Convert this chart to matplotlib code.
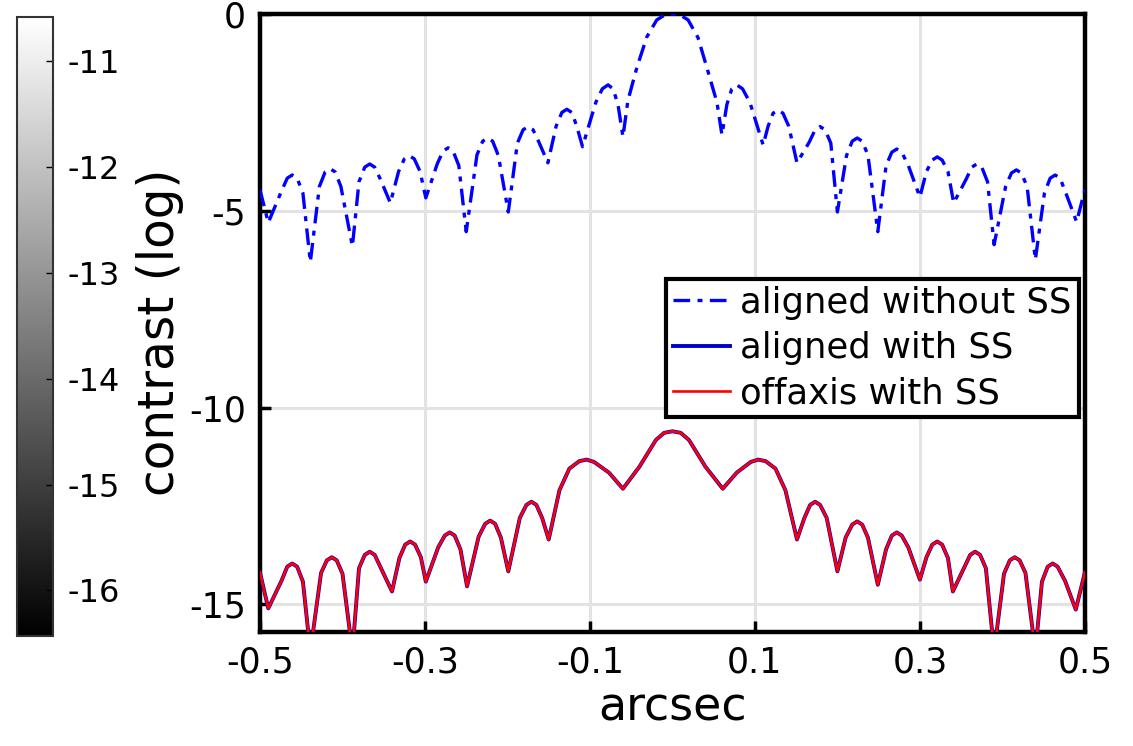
import numpy as np
import matplotlib
matplotlib.use("Agg")
import matplotlib.pyplot as plt
from matplotlib import colors, cm

# blue dash-dot curve: aligned without SS, (arcsec, log contrast)
pts_nos = [
    (-0.500, -4.47), (-0.490, -5.30), (-0.474, -4.50), (-0.467, -4.17), (-0.461, -4.09),
    (-0.455, -4.17), (-0.448, -4.55), (-0.439, -6.30), (-0.428, -4.38), (-0.421, -4.01),
    (-0.415, -3.93), (-0.409, -4.01), (-0.402, -4.38), (-0.388, -5.90), (-0.380, -4.26),
    (-0.373, -3.89), (-0.367, -3.81), (-0.361, -3.89), (-0.354, -4.20), (-0.342, -4.80),
    (-0.332, -4.00), (-0.325, -3.68), (-0.319, -3.60), (-0.313, -3.68), (-0.306, -4.00),
    (-0.299, -4.67), (-0.285, -3.80), (-0.278, -3.48), (-0.272, -3.40), (-0.266, -3.48),
    (-0.259, -3.85), (-0.250, -5.53), (-0.237, -3.58), (-0.230, -3.23), (-0.224, -3.15),
    (-0.218, -3.23), (-0.211, -3.60), (-0.199, -5.03), (-0.188, -3.28), (-0.181, -2.94),
    (-0.175, -2.86), (-0.169, -2.94), (-0.162, -3.25), (-0.151, -3.78), (-0.141, -2.85),
    (-0.134, -2.50), (-0.128, -2.42), (-0.122, -2.50), (-0.116, -2.85), (-0.109, -3.37),
    (-0.093, -2.25), (-0.085, -1.90), (-0.078, -1.80), (-0.072, -1.90), (-0.066, -2.30),
    (-0.060, -3.12), (-0.054, -2.20), (-0.043, -1.35), (-0.031, -0.58), (-0.019, -0.15),
    (-0.009, -0.02), (0.000, 0.00), (0.009, -0.02), (0.019, -0.15), (0.031, -0.60),
    (0.043, -1.45), (0.054, -2.25), (0.060, -3.07), (0.066, -2.30), (0.072, -1.90),
    (0.078, -1.80), (0.085, -1.90), (0.094, -2.25), (0.110, -3.33), (0.116, -2.85),
    (0.122, -2.52), (0.128, -2.44), (0.134, -2.52), (0.141, -2.85), (0.151, -3.78),
    (0.166, -3.25), (0.173, -2.94), (0.179, -2.86), (0.185, -2.94), (0.192, -3.28),
    (0.200, -5.03), (0.211, -3.60), (0.218, -3.23), (0.224, -3.15), (0.230, -3.23),
    (0.237, -3.58), (0.249, -5.53), (0.259, -3.85), (0.266, -3.51), (0.272, -3.43),
    (0.278, -3.51), (0.286, -3.85), (0.300, -4.65), (0.308, -4.00), (0.315, -3.71),
    (0.321, -3.63), (0.327, -3.71), (0.334, -4.00), (0.341, -4.80), (0.356, -4.20),
    (0.363, -3.89), (0.369, -3.81), (0.375, -3.89), (0.382, -4.26), (0.390, -5.86),
    (0.404, -4.38), (0.411, -4.04), (0.417, -3.96), (0.423, -4.04), (0.430, -4.38),
    (0.440, -6.24), (0.451, -4.55), (0.458, -4.17), (0.464, -4.09), (0.470, -4.17),
    (0.477, -4.55), (0.490, -5.28), (0.500, -4.47),
]

# red curve: offaxis with SS (the blue "aligned with SS" curve lies underneath it)
pts_off = [
    (-0.500, -14.19), (-0.490, -15.10), (-0.474, -14.40), (-0.467, -14.04), (-0.461, -13.96),
    (-0.455, -14.04), (-0.448, -14.42), (-0.439, -16.20), (-0.426, -14.20), (-0.419, -13.88),
    (-0.413, -13.80), (-0.407, -13.88), (-0.400, -14.22), (-0.388, -16.20), (-0.380, -14.08),
    (-0.373, -13.74), (-0.367, -13.66), (-0.361, -13.74), (-0.354, -14.05), (-0.340, -14.67),
    (-0.331, -13.82), (-0.324, -13.48), (-0.318, -13.40), (-0.312, -13.48), (-0.305, -13.80),
    (-0.299, -14.42), (-0.284, -13.55), (-0.276, -13.25), (-0.270, -13.17), (-0.264, -13.25),
    (-0.257, -13.60), (-0.249, -14.54), (-0.235, -13.28), (-0.227, -12.95), (-0.221, -12.87),
    (-0.215, -12.95), (-0.208, -13.30), (-0.199, -14.16), (-0.185, -12.80), (-0.177, -12.47),
    (-0.171, -12.39), (-0.165, -12.47), (-0.158, -12.80), (-0.150, -13.35), (-0.137, -12.10),
    (-0.125, -11.55), (-0.113, -11.36), (-0.104, -11.32), (-0.095, -11.38), (-0.077, -11.65),
    (-0.060, -12.06), (-0.040, -11.50), (-0.020, -10.82), (-0.010, -10.64), (0.000, -10.60),
    (0.010, -10.64), (0.020, -10.82), (0.040, -11.50), (0.061, -12.06), (0.078, -11.65),
    (0.095, -11.38), (0.104, -11.32), (0.113, -11.36), (0.125, -11.55), (0.137, -12.10),
    (0.151, -13.35), (0.160, -12.80), (0.167, -12.47), (0.173, -12.39), (0.179, -12.47),
    (0.187, -12.80), (0.200, -14.16), (0.210, -13.30), (0.218, -12.97), (0.224, -12.89),
    (0.230, -12.97), (0.237, -13.30), (0.249, -14.50), (0.259, -13.60), (0.266, -13.25),
    (0.272, -13.17), (0.278, -13.25), (0.286, -13.55), (0.300, -14.37), (0.308, -13.80),
    (0.315, -13.48), (0.321, -13.40), (0.327, -13.48), (0.334, -13.82), (0.340, -14.67),
    (0.354, -14.05), (0.361, -13.74), (0.367, -13.66), (0.373, -13.74), (0.380, -14.08),
    (0.390, -16.20), (0.402, -14.22), (0.409, -13.88), (0.415, -13.80), (0.421, -13.88),
    (0.428, -14.20), (0.440, -16.20), (0.448, -14.42), (0.455, -14.04), (0.461, -13.96),
    (0.467, -14.04), (0.476, -14.40), (0.489, -15.13), (0.500, -14.19),
]

x_ticks = [-0.5, -0.3, -0.1, 0.1, 0.3, 0.5]
y_ticks = [-15, -10, -5, 0]
cbar_ticks = [-16, -15, -14, -13, -12, -11]
cbar_range = (-16.43, -10.58)

x_nos, y_nos = zip(*pts_nos)
x_off, y_off = zip(*pts_off)

fig = plt.figure(figsize=(11.33, 7.46), dpi=100)
ax = fig.add_axes([0.2295, 0.1528, 0.728, 0.8284])

ax.plot(x_nos, y_nos, color=(0, 0, 1), lw=2.4, linestyle=(0, (5, 2.2, 1.5, 2.2)),
        label='aligned without SS', zorder=3)
ax.plot(x_off, y_off, color=(0, 0, 0.8), lw=2.8, label='aligned with SS', zorder=3)
ax.plot(x_off, y_off, color=(1, 0, 0), lw=1.9, label='offaxis with SS', zorder=4)

ax.set_xlim(-0.5, 0.5)
ax.set_ylim(-15.7, 0)
ax.set_xticks(x_ticks)
ax.set_xticklabels([f'{t:g}' for t in x_ticks])
ax.set_yticks(y_ticks)
ax.set_yticklabels([f'{t:d}' for t in y_ticks])
ax.grid(True, color='#e3e3e3', lw=2.2)
ax.set_axisbelow(True)
ax.tick_params(direction='in', length=8, width=2.5, labelsize=25, pad=10)
for sp in ax.spines.values():
    sp.set_linewidth(3.2)
ax.set_xlabel('arcsec', fontsize=33, labelpad=4)
fig.text(0.141, 0.555, 'contrast (log)', rotation=90, fontsize=35, ha='center', va='center')

leg = ax.legend(loc='upper left', bbox_to_anchor=(0.492, 0.572), fontsize=25.5,
                handlelength=1.6, handletextpad=0.3, borderpad=0.2, labelspacing=0.32,
                borderaxespad=0, fancybox=False, framealpha=1)
leg.get_frame().set_edgecolor('black')
leg.get_frame().set_linewidth(3)

# grayscale colour bar on the left
cax = fig.add_axes([0.015, 0.1475, 0.032, 0.83])
cb = fig.colorbar(cm.ScalarMappable(norm=colors.Normalize(*cbar_range), cmap='gray'),
                  cax=cax, ticks=cbar_ticks)
cb.ax.tick_params(direction='in', length=5, width=1, labelsize=23, pad=10)
cb.ax.set_yticklabels([f'{t:d}' for t in cbar_ticks])
cb.outline.set_linewidth(1.5)
cb.outline.set_edgecolor('#333333')

fig.savefig('out.png', dpi=100)
